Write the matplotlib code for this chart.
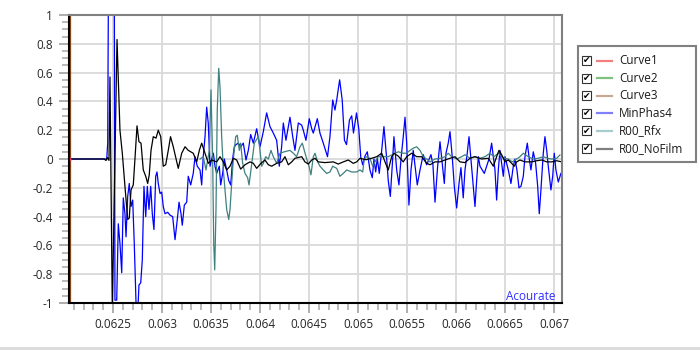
import matplotlib
matplotlib.use('Agg')
import matplotlib.pyplot as plt
from matplotlib.ticker import MultipleLocator, FuncFormatter
from matplotlib.patches import Rectangle

plt.rcParams['font.family'] = ['Open Sans', 'DejaVu Sans']

# ---- data ----
minphas_t = [0.062051, 0.062408, 0.062436, 0.062446, 0.062454, 0.062513, 0.06252, 0.062538,
             0.062554, 0.062571, 0.062589, 0.062605, 0.062622, 0.062633, 0.06265, 0.062666,
             0.062684, 0.062701, 0.062717, 0.062735, 0.06275, 0.062765, 0.062783, 0.062799,
             0.062816, 0.062834, 0.06285, 0.062867, 0.062885, 0.062901, 0.062918, 0.062936,
             0.062949, 0.062962, 0.06298, 0.062997, 0.063013, 0.063031, 0.063058, 0.063082,
             0.063109, 0.063133, 0.063156, 0.063174, 0.063194, 0.063207, 0.063228, 0.063252,
             0.063268, 0.063293, 0.063319, 0.063337, 0.06336, 0.063388, 0.063405, 0.063421,
             0.063439, 0.063456, 0.063472, 0.06349, 0.063507, 0.063524, 0.063541, 0.063558,
             0.063585, 0.063599, 0.063619, 0.063636, 0.06366, 0.063681, 0.063701, 0.063721,
             0.063738, 0.063755, 0.063779, 0.063803, 0.06383, 0.063857, 0.063881, 0.063905,
             0.063932, 0.063966, 0.064, 0.064034, 0.064068, 0.064102, 0.064136, 0.06417,
             0.064197, 0.064221, 0.064238, 0.064265, 0.064306, 0.064334, 0.064357, 0.064391,
             0.064426, 0.064442, 0.064469, 0.064503, 0.064528, 0.064544, 0.064585, 0.064612,
             0.064646, 0.064689, 0.064714, 0.064742, 0.064765, 0.064783, 0.064813, 0.064839,
             0.064862, 0.064883, 0.064913, 0.064936, 0.064954, 0.064985, 0.065008, 0.065028,
             0.065048, 0.065071, 0.065095, 0.065122, 0.065146, 0.065163, 0.065181, 0.065197,
             0.065217, 0.065242, 0.065265, 0.065293, 0.065309, 0.06533, 0.065354, 0.065367,
             0.065395, 0.065418, 0.065439, 0.065462, 0.06548, 0.065497, 0.06552, 0.065541,
             0.065564, 0.065605, 0.065633, 0.065666, 0.065701, 0.065745, 0.065765, 0.065786,
             0.065813, 0.065837, 0.06586, 0.065881, 0.065898, 0.065921, 0.065939, 0.065962,
             0.065983, 0.066007, 0.066031, 0.066051, 0.066074, 0.066092, 0.066115, 0.066133,
             0.066153, 0.066174, 0.066194, 0.066211, 0.066228, 0.066245, 0.066289, 0.066313,
             0.066337, 0.066364, 0.066398, 0.066415, 0.066432, 0.066449, 0.066483, 0.0665,
             0.066517, 0.066534, 0.066561, 0.066585, 0.066602, 0.066622, 0.066643, 0.066663,
             0.066687, 0.066704, 0.066728, 0.066748, 0.066765, 0.066789, 0.066813, 0.066834,
             0.06685, 0.066867, 0.066891, 0.066908, 0.066926, 0.066942, 0.066969, 0.066987,
             0.067003, 0.06702, 0.067044, 0.067071]
minphas_y = [0, 0, 0, 0.11, 1.3, 1.3, -0.98, -0.98,
             -0.45, -0.585, -0.79, -0.27, -0.38, -0.54, -0.26, -0.17,
             -0.33, -0.285, -0.585, -1.0, -1.1, -0.875, -0.86, -0.7,
             -0.19, -0.4, -0.19, -0.35, -0.19, -0.38, -0.49, -0.12,
             -0.09, -0.17, -0.24, -0.23, -0.33, -0.38, -0.37, -0.39,
             -0.4, -0.56, -0.42, -0.3, -0.38, -0.46, -0.32, -0.3,
             -0.12, -0.18, -0.1, 0.016, -0.05, -0.076, -0.18, 0.016,
             0.155, 0.36, 0.25, -0.05, 0.0, 0.04, -0.05, -0.1,
             -0.05, -0.18, -0.1, 0.0, -0.076, -0.15, -0.18, 0.0,
             0.085, 0.1, 0.11, 0.085, 0.11, -0.007, 0.06, 0.17,
             0.11, 0.21, 0.085, 0.19, 0.32, 0.225, 0.18, 0.13,
             -0.05, 0.085, 0.25, 0.13, 0.29, 0.155, 0.06, 0.25,
             0.235, 0.2, 0.13, 0.28, 0.21, 0.18, 0.28, 0.18,
             0.11, 0.016, 0.155, 0.41, 0.34, 0.41, 0.55, 0.41,
             0.13, 0.1, 0.27, 0.3, 0.18, 0.32, 0.21, 0.016,
             -0.04, 0.02, 0.05, -0.076, -0.13, 0.0, -0.09, 0.005,
             -0.1, 0.06, 0.225, 0.0, -0.15, -0.26, 0.0, 0.155,
             -0.076, -0.18, 0.0, 0.155, 0.29, 0.11, -0.32, -0.076,
             0.06, -0.18, -0.076, 0.03, -0.04, 0.03, -0.04, -0.3,
             -0.05, 0.12, -0.03, -0.17, 0.04, 0.11, 0.19, 0.016,
             -0.19, -0.34, -0.17, -0.06, -0.27, -0.076, 0.04, 0.155,
             0.0, -0.17, -0.33, -0.15, 0.016, -0.05, -0.1, -0.05,
             0.0, 0.11, -0.076, -0.285, -0.076, 0.06, -0.12, 0.016,
             -0.03, -0.076, -0.17, -0.05, 0.0, -0.076, -0.2, -0.19,
             -0.12, 0.016, 0.11, 0.0, -0.076, 0.05, -0.03, -0.19,
             -0.38, -0.215, 0.04, 0.155, 0.06, -0.05, -0.215, -0.12,
             0.04, -0.076, -0.16, -0.1]

rfx_t = [0.063388, 0.063421, 0.063449, 0.063483, 0.0635, 0.063517, 0.063528, 0.063538,
         0.063551, 0.063564, 0.063579, 0.063592, 0.063609, 0.063626, 0.063643, 0.06366,
         0.063681, 0.063694, 0.063711, 0.063728, 0.063752, 0.063768, 0.063789, 0.063803,
         0.063823, 0.063847, 0.063874, 0.063888, 0.063908, 0.063942, 0.063983, 0.064,
         0.064017, 0.064034, 0.064058, 0.064085, 0.064112, 0.064136, 0.06417, 0.064204,
         0.064248, 0.064306, 0.06434, 0.064374, 0.064408, 0.064432, 0.064452, 0.064477,
         0.0645, 0.06452, 0.064544, 0.064561, 0.064589, 0.064612, 0.064646, 0.064681,
         0.064714, 0.064742, 0.064783, 0.064816, 0.06485, 0.064885, 0.064936, 0.064987,
         0.06502, 0.065048, 0.065064, 0.065089, 0.065122, 0.06515, 0.065173, 0.065207,
         0.065309, 0.065378, 0.065411, 0.065462, 0.065497, 0.065531, 0.065564, 0.065599,
         0.065633, 0.065666, 0.065701, 0.065735, 0.065786, 0.065837, 0.065888, 0.065921,
         0.065956, 0.066007, 0.066058, 0.066092, 0.066143, 0.066194, 0.066245, 0.066296,
         0.066347, 0.066388, 0.066432, 0.066466, 0.0665, 0.066534, 0.066574, 0.066619,
         0.066653, 0.066687, 0.066738, 0.066789, 0.06684, 0.066891, 0.066936, 0.066977,
         0.067028, 0.067061]
rfx_y = [0.0, 0.016, -0.076, 0.06, 0.48, 0.0, -0.585, -0.77,
         -0.35, 0.34, 0.63, 0.5, 0.155, -0.076, -0.215, -0.35,
         -0.42, -0.35, -0.17, 0.0, 0.155, 0.165, 0.06, 0.11,
         -0.03, -0.1, -0.13, -0.18, -0.076, 0.11, 0.155, 0.06,
         -0.05, -0.03, 0.016, 0.0, 0.06, 0.016, -0.03, 0.04,
         0.05, 0.06, 0.04, 0.016, 0.085, 0.11, 0.06, 0.0,
         -0.05, -0.11, 0.016, 0.04, -0.02, -0.05, -0.076, -0.1,
         -0.09, -0.05, -0.065, -0.12, -0.1, -0.076, -0.09, -0.09,
         -0.076, -0.09, 0.0, 0.016, 0.005, -0.05, -0.02, 0.016,
         0.016, 0.04, 0.05, 0.04, 0.04, 0.06, 0.075, 0.085,
         0.06, 0.016, 0.0, -0.02, 0.0, 0.005, 0.016, 0.04,
         0.016, 0.0, 0.016, 0.03, 0.005, 0.016, 0.005, 0.016,
         0.04, 0.016, 0.04, 0.016, 0.005, 0.0, -0.02, 0.0,
         0.016, 0.04, 0.016, 0.0, 0.005, 0.016, 0.005, 0.0,
         0.005, 0.028]

nofilm_t = [0.062051, 0.062408, 0.062429, 0.062444, 0.062459, 0.062469, 0.062493, 0.062541,
            0.062571, 0.062595, 0.062622, 0.06265, 0.062666, 0.062684, 0.062707, 0.062724,
            0.062745, 0.062765, 0.062786, 0.062809, 0.062834, 0.062854, 0.06287, 0.062888,
            0.062911, 0.062939, 0.062962, 0.062987, 0.063013, 0.063038, 0.063064, 0.063087,
            0.063115, 0.063166, 0.063201, 0.063235, 0.063268, 0.063319, 0.063354, 0.063381,
            0.063405, 0.063439, 0.063473, 0.063507, 0.063558, 0.063592, 0.063626, 0.06366,
            0.063694, 0.063728, 0.063762, 0.063803, 0.063847, 0.063898, 0.063932, 0.063966,
            0.06401, 0.064051, 0.064085, 0.064119, 0.06417, 0.064221, 0.064255, 0.064289,
            0.064324, 0.064357, 0.064426, 0.064459, 0.064493, 0.064528, 0.064561, 0.064595,
            0.064663, 0.064748, 0.064799, 0.06485, 0.064901, 0.064952, 0.064987, 0.06502,
            0.065082, 0.06514, 0.065191, 0.065242, 0.065276, 0.065309, 0.065344, 0.065367,
            0.065411, 0.065462, 0.065497, 0.065548, 0.065599, 0.06565, 0.065701, 0.065735,
            0.065786, 0.065837, 0.065888, 0.065939, 0.06599, 0.066041, 0.066092, 0.066143,
            0.066194, 0.066262, 0.06633, 0.066381, 0.066415, 0.066439, 0.066466, 0.0665,
            0.066534, 0.066568, 0.066595, 0.066619, 0.066653, 0.066704, 0.066772, 0.066824,
            0.066875, 0.066926, 0.066977, 0.067028, 0.067079]
nofilm_y = [0, 0, -0.01, 0.01, -0.01, 0.57, -1.05, 0.83,
            0.2, 0.04, -0.19, -0.42, -0.41, -0.215, -0.18, 0.0,
            0.23, 0.12, 0.11, -0.076, -0.12, -0.17, -0.11, 0.06,
            0.155, 0.145, 0.2, 0.155, -0.05, -0.04, 0.06, 0.155,
            0.085, -0.065, 0.04, 0.085, 0.06, 0.04, -0.02, 0.06,
            0.11, 0.04, -0.03, -0.007, -0.02, 0.016, -0.02, -0.076,
            -0.05, 0.005, -0.007, -0.07, -0.04, -0.02, -0.03, -0.065,
            -0.03, -0.007, -0.04, -0.05, -0.03, -0.02, 0.016, -0.04,
            -0.02, 0.005, 0.016, -0.02, -0.035, -0.007, 0.005, -0.02,
            -0.025, -0.02, -0.035, -0.02, -0.007, -0.03, -0.02, 0.005,
            -0.005, 0.005, 0.016, 0.04, -0.02, -0.076, 0.016, 0.04,
            0.02, -0.02, 0.016, 0.04, 0.016, 0.016, -0.03, -0.04,
            -0.02, -0.02, -0.007, 0.005, 0.016, -0.02, -0.025, 0.005,
            0.016, 0.0, 0.005, -0.05, 0.016, 0.06, 0.03, -0.02,
            -0.007, -0.03, -0.05, -0.02, -0.007, -0.02, -0.02, -0.012,
            -0.007, -0.02, -0.02, -0.012, -0.02]

# Curve1..3 only show at the very left edge
curve1_t = [0.062051]
curve1_y = [0.0]
curve2_t = [0.062051]
curve2_y = [0.0]
curve3_t = [0.062066, 0.062066]
curve3_y = [-1.0, 1.0]

legend_names = ['Curve1', 'Curve2', 'Curve3', 'MinPhas4', 'R00_Rfx', 'R00_NoFilm']
legend_colors = ['#f08080', '#80c080', '#c8a890', '#8080ff', '#a8cccc', '#808080']

assert len(minphas_t) == len(minphas_y)
assert len(rfx_t) == len(rfx_y)
assert len(nofilm_t) == len(nofilm_y)

fig = plt.figure(figsize=(7, 3.5), dpi=100, facecolor='white')
ax = fig.add_axes([69 / 700, 47 / 350, 493 / 700, 288 / 350])

ax.plot(curve2_t, curve2_y, color='#008000', lw=0.9)
ax.plot(curve3_t, curve3_y, color='#8b4513', lw=0.9)
ax.plot(minphas_t, minphas_y, color='#0000ff', lw=0.9)
ax.plot(rfx_t, rfx_y, color='#3f8080', lw=0.9)
ax.plot(nofilm_t, nofilm_y, color='black', lw=0.9)
ax.plot(curve1_t, curve1_y, 'o', color='#ff3060', ms=2)

ax.set_xlim(0.062051, 0.067082)
ax.set_ylim(-1, 1)

ax.xaxis.set_major_locator(MultipleLocator(0.0005))
ax.xaxis.set_minor_locator(MultipleLocator(0.0001))
ax.yaxis.set_major_locator(MultipleLocator(0.2))
ax.yaxis.set_minor_locator(MultipleLocator(0.05))
fmt = FuncFormatter(lambda v, p: f'{round(v, 6):g}')
ax.xaxis.set_major_formatter(fmt)
ax.yaxis.set_major_formatter(fmt)

ax.grid(True, which='major', color='#d9d9d9', lw=1.3)
ax.set_axisbelow(True)
ax.tick_params(which='major', length=7, width=1.3, color='#a8a8a8',
               labelsize=8.5, labelcolor='#262626')
ax.tick_params(which='minor', length=5, width=1.3, color='#b4b4b4')
ax.tick_params(axis='y', which='major', pad=4.5)
ax.tick_params(axis='x', which='major', pad=3.5)

for side, col in [('left', 'black'), ('bottom', 'black'), ('top', '#808080'), ('right', '#808080')]:
    ax.spines[side].set_color(col)
    ax.spines[side].set_linewidth(1.5)

ax.text(0.986, 0.01, 'Acourate', transform=ax.transAxes, ha='right', va='baseline',
        color='#3030ff', fontsize=8.5)

# legend panel with check boxes
lax = fig.add_axes([577 / 700, (350 - 162) / 350, 119 / 700, 117 / 350])
lax.set_xlim(0, 119)
lax.set_ylim(117, 0)
lax.axis('off')
lax.add_patch(Rectangle((0.5, 0.5), 118, 116, fill=False, ec='#808080', lw=1.5, clip_on=False))
for i, (name, col) in enumerate(zip(legend_names, legend_colors)):
    yc = 15.5 + i * 17.6
    lax.add_patch(Rectangle((5, yc - 4.5), 9, 9, fc='white', ec='#333333', lw=0.8))
    lax.text(9.6, yc + 0.3, '\u2714', ha='center', va='center', fontsize=6.5,
             family='DejaVu Sans', color='black')
    lax.plot([20, 35], [yc, yc], color=col, lw=1.6)
    lax.text(42, yc, name, va='center', fontsize=8.5, color='#1a1a1a')

fig.add_artist(Rectangle((0, 0), 1, 3 / 350, transform=fig.transFigure,
                         color='#dcdcdc', lw=0))

fig.savefig('out.png', dpi=100, facecolor='white')
